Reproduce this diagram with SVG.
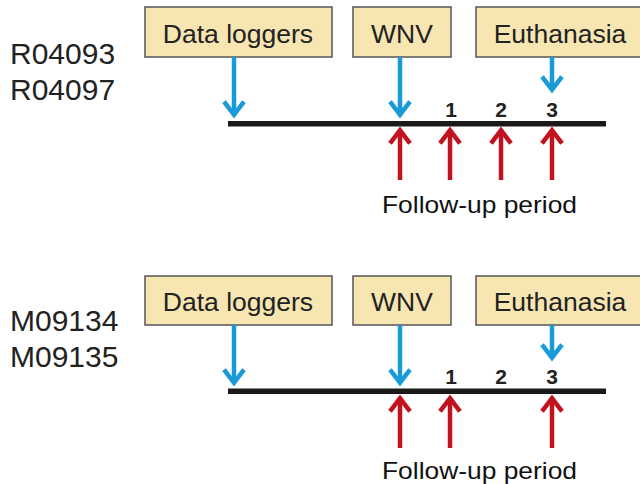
<svg xmlns="http://www.w3.org/2000/svg" width="640" height="484" viewBox="0 0 640 484">
<style>
.box{fill:#f7e6b2;stroke:#555;stroke-width:1.5}
.bt{font-family:"Liberation Sans",Arial,sans-serif;font-size:26.5px;fill:#222;text-anchor:middle}
.id{font-family:"Liberation Sans",Arial,sans-serif;font-size:30px;fill:#222}
.num{font-family:"Liberation Sans",Arial,sans-serif;font-size:21px;font-weight:bold;fill:#222;text-anchor:middle}
.fu{font-family:"Liberation Sans",Arial,sans-serif;font-size:24px;fill:#111}
.tl{stroke:#1a1a1a;stroke-width:5.5}
.blue{stroke:#1a9bd7;stroke-width:4.5;fill:none;marker-end:url(#hb)}
.red{stroke:#c1121f;stroke-width:4.5;fill:none;marker-end:url(#hr)}
</style>
<defs>
<marker id="hb" markerUnits="userSpaceOnUse" viewBox="-20 -20 40 40" markerWidth="40" markerHeight="40" refX="-3" refY="0" orient="auto" overflow="visible">
<path d="M-16,-10 L-3,0 L-16,10" fill="none" stroke="#1a9bd7" stroke-width="4.5"/>
</marker>
<marker id="hr" markerUnits="userSpaceOnUse" viewBox="-20 -20 40 40" markerWidth="40" markerHeight="40" refX="-3" refY="0" orient="auto" overflow="visible">
<path d="M-16,-10 L-3,0 L-16,10" fill="none" stroke="#c1121f" stroke-width="4.5"/>
</marker>
</defs>

<g id="labels-top">
<text class="id" x="10" y="64">R04093</text>
<text class="id" x="10" y="100">R04097</text>
</g>
<g id="node-dataloggers-top">
<rect class="box" x="145" y="7" width="187" height="50"/>
<text class="bt" x="238" y="43">Data loggers</text>
</g>
<g id="node-wnv-top">
<rect class="box" x="353" y="7" width="98" height="50"/>
<text class="bt" x="402" y="43">WNV</text>
</g>
<g id="node-euthanasia-top">
<rect class="box" x="476" y="7" width="170" height="50"/>
<text class="bt" x="560" y="43">Euthanasia</text>
</g>
<g id="timeline-top">
<line class="tl" x1="228" y1="123.7" x2="606" y2="123.7"/>
<text class="num" x="451" y="117">1</text>
<text class="num" x="501" y="117">2</text>
<text class="num" x="552" y="117">3</text>
<text class="fu" x="382" y="213" textLength="195" lengthAdjust="spacingAndGlyphs">Follow-up period</text>
</g>
<g id="connectors-top">
<line class="blue" x1="234" y1="57" x2="234" y2="114.7"/>
<line class="blue" x1="400" y1="57" x2="400" y2="114.7"/>
<line class="blue" x1="552" y1="57" x2="552" y2="89.7"/>
<line class="red" x1="400" y1="180" x2="400" y2="130.3"/>
<line class="red" x1="450" y1="180" x2="450" y2="130.3"/>
<line class="red" x1="501" y1="180" x2="501" y2="130.3"/>
<line class="red" x1="552" y1="180" x2="552" y2="130.3"/>
</g>

<g id="labels-bottom">
<text class="id" x="10" y="331">M09134</text>
<text class="id" x="10" y="367">M09135</text>
</g>
<g id="node-dataloggers-bottom">
<rect class="box" x="145" y="276" width="187" height="49"/>
<text class="bt" x="238" y="311">Data loggers</text>
</g>
<g id="node-wnv-bottom">
<rect class="box" x="353" y="276" width="98" height="49"/>
<text class="bt" x="402" y="311">WNV</text>
</g>
<g id="node-euthanasia-bottom">
<rect class="box" x="476" y="276" width="170" height="49"/>
<text class="bt" x="560" y="311">Euthanasia</text>
</g>
<g id="timeline-bottom">
<line class="tl" x1="228" y1="391.2" x2="606" y2="391.2"/>
<text class="num" x="451" y="384">1</text>
<text class="num" x="501" y="384">2</text>
<text class="num" x="552" y="384">3</text>
<text class="fu" x="382" y="479" textLength="195" lengthAdjust="spacingAndGlyphs">Follow-up period</text>
</g>
<g id="connectors-bottom">
<line class="blue" x1="234" y1="325" x2="234" y2="382.7"/>
<line class="blue" x1="400" y1="325" x2="400" y2="382.7"/>
<line class="blue" x1="552" y1="325" x2="552" y2="357.7"/>
<line class="red" x1="400" y1="448" x2="400" y2="398.3"/>
<line class="red" x1="450" y1="448" x2="450" y2="398.3"/>
<line class="red" x1="552" y1="448" x2="552" y2="398.3"/>
</g>
</svg>
